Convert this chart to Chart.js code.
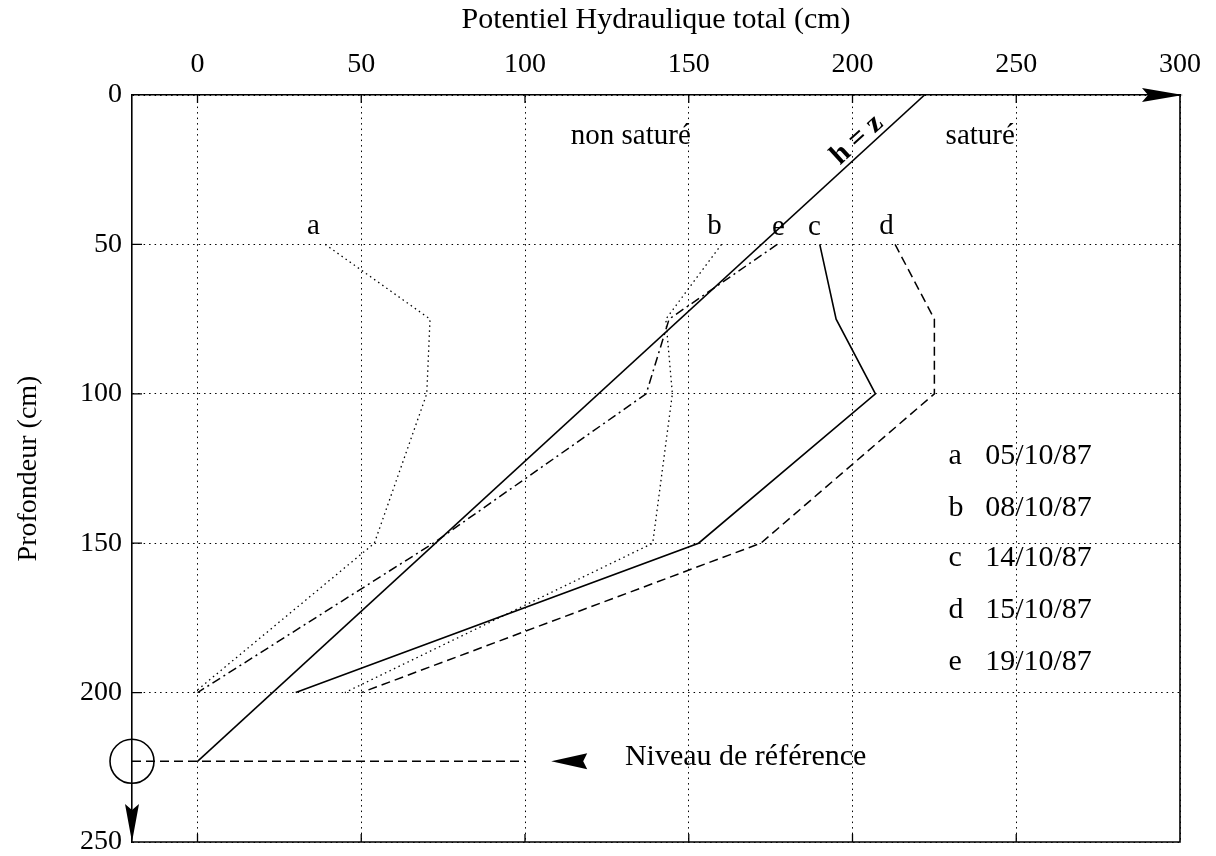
<!DOCTYPE html>
<html>
<head>
<meta charset="utf-8">
<script src="https://cdn.jsdelivr.net/npm/chart.js@4.4.1/dist/chart.umd.min.js"></script>
<style>
  html, body { margin: 0; padding: 0; background: #fff; }
  #wrap { width: 1216px; height: 856px; }
</style>
</head>
<body>
<div id="wrap"><canvas id="chart"></canvas></div>
<script>
// profondeurs des tensiometres (cm)
const depths = [50, 75, 100, 150, 200];
// potentiel hydraulique total (cm) pour chaque date
const serieA = [39, 71, 70, 54, -1];
const serieB = [160, 143, 145, 139, 45];
const serieC = [190, 195, 207, 153, 30];
const serieD = [213, 225, 225, 172, 50];
const serieE = [177, 144, 137, 72, 0];

const hzX = [222, 0];
const hzY = [0, 223];
const refDepth = 223;
const refX = [-20, 100];

const xTicks = [0, 50, 100, 150, 200, 250, 300];
const yTicks = [0, 50, 100, 150, 200, 250];

const letters = ["a", "b", "c", "d", "e"];
const dates = ["05/10/87", "08/10/87", "14/10/87", "15/10/87", "19/10/87"];

const FONT = "'Liberation Serif', 'Times New Roman', serif";

function pts(xs, ys) {
  return xs.map((x, i) => ({ x: x, y: ys[i] }));
}

function lineSet(label, xs, ys, dash, width) {
  return {
    label: label,
    data: pts(xs, ys),
    borderColor: "#000",
    borderWidth: width,
    borderDash: dash,
    pointRadius: 0,
    fill: false,
    tension: 0,
  };
}

const datasets = [
  lineSet("a", serieA, depths, [1.5, 3.5], 1.3),
  lineSet("b", serieB, depths, [1.5, 3.5], 1.3),
  lineSet("c", serieC, depths, [], 1.6),
  lineSet("d", serieD, depths, [9, 5], 1.5),
  lineSet("e", serieE, depths, [9, 4, 2, 4], 1.5),
  lineSet("h=z", hzX, hzY, [], 1.6),
  lineSet("ref", refX, [refDepth, refDepth], [9, 5], 1.5),
  {
    label: "origine",
    data: [{ x: refX[0], y: refDepth }],
    pointRadius: 22,
    pointStyle: "circle",
    borderColor: "#000",
    borderWidth: 1.6,
    backgroundColor: "rgba(0,0,0,0)",
    showLine: false,
    clip: false,
  },
];

// cadre, fleches, petites graduations et textes
const notes = {
  id: "notes",
  afterDraw(chart) {
    const ctx = chart.ctx;
    const xs = chart.scales.x;
    const ys = chart.scales.y;
    const area = chart.chartArea;
    const px = (v) => xs.getPixelForValue(v);
    const py = (v) => ys.getPixelForValue(v);

    ctx.save();
    ctx.strokeStyle = "#000";
    ctx.fillStyle = "#000";
    ctx.lineWidth = 1.6;
    ctx.setLineDash([]);
    ctx.beginPath();
    ctx.moveTo(area.right, area.top);
    ctx.lineTo(area.right, area.bottom);
    ctx.lineTo(area.left, area.bottom);
    ctx.stroke();

    // graduations vers l'interieur
    ctx.lineWidth = 1.3;
    ctx.beginPath();
    xTicks.slice(0, -1).forEach((v) => {
      ctx.moveTo(px(v), area.top);
      ctx.lineTo(px(v), area.top + 8);
      ctx.moveTo(px(v), area.bottom);
      ctx.lineTo(px(v), area.bottom - 8);
    });
    yTicks.slice(1, -1).forEach((v) => {
      ctx.moveTo(area.left, py(v));
      ctx.lineTo(area.left + 10, py(v));
    });
    ctx.stroke();

    // fleche axe horizontal
    ctx.beginPath();
    ctx.moveTo(area.right + 3, area.top);
    ctx.lineTo(area.right - 38, area.top - 7);
    ctx.lineTo(area.right - 32, area.top);
    ctx.lineTo(area.right - 38, area.top + 7);
    ctx.closePath();
    ctx.fill();

    // fleche axe vertical
    ctx.beginPath();
    ctx.moveTo(area.left, area.bottom);
    ctx.lineTo(area.left - 7, area.bottom - 38);
    ctx.lineTo(area.left, area.bottom - 32);
    ctx.lineTo(area.left + 7, area.bottom - 38);
    ctx.closePath();
    ctx.fill();

    // fleche niveau de reference
    const ay = py(refDepth);
    const ax = px(108);
    ctx.beginPath();
    ctx.moveTo(ax, ay);
    ctx.lineTo(ax + 36, ay - 8);
    ctx.lineTo(ax + 32, ay);
    ctx.lineTo(ax + 36, ay + 8);
    ctx.closePath();
    ctx.fill();

    ctx.font = "29px " + FONT;
    ctx.textBaseline = "middle";
    ctx.textAlign = "center";
    ctx.fillText("a", px(35.4), py(44));
    ctx.fillText("b", px(157.9), py(44));
    ctx.fillText("e", px(177.4), py(44.3));
    ctx.fillText("c", px(188.4), py(44.3));
    ctx.fillText("d", px(210.4), py(44));
    ctx.fillText("non saturé", px(132.3), py(14));
    ctx.fillText("saturé", px(239), py(14));

    ctx.save();
    ctx.translate(px(201.4), py(15));
    ctx.rotate(-42.5 * Math.PI / 180);
    ctx.font = "bold 29px " + FONT;
    ctx.fillText("h = z", 0, 0);
    ctx.restore();

    ctx.font = "30px " + FONT;
    ctx.textAlign = "left";
    const legY = [121, 138.2, 154.9, 172.4, 189.7];
    letters.forEach((l, i) => {
      ctx.fillText(l, px(229.3), py(legY[i]));
      ctx.fillText(dates[i], px(240.5), py(legY[i]));
    });
    ctx.fillText("Niveau de référence", px(130.5), py(221.6));
    ctx.restore();
  },
};

new Chart(document.getElementById("chart"), {
  type: "line",
  data: { datasets: datasets },
  options: {
    responsive: true,
    maintainAspectRatio: false,
    animation: false,
    layout: { autoPadding: false, padding: { left: 0, top: 0, right: 36, bottom: 14 } },
    plugins: { legend: { display: false }, tooltip: { enabled: false } },
    scales: {
      x: {
        type: "linear",
        position: "top",
        min: -20,
        max: 300,
        afterBuildTicks: (axis) => { axis.ticks = xTicks.map((v) => ({ value: v })); },
        afterFit: (s) => { s.height = 95; s.paddingLeft = 0; s.paddingRight = 0; },
        grid: { color: "#000", lineWidth: 1, drawTicks: false },
        border: { display: true, color: "#000", width: 1.6, dash: [1.5, 4] },
        ticks: { color: "#000", font: { family: FONT, size: 28 }, padding: 14, maxRotation: 0 },
        title: {
          display: true,
          text: "Potentiel Hydraulique total (cm)",
          color: "#000",
          font: { family: FONT, size: 30 },
          padding: { top: 2, bottom: 0 },
        },
      },
      y: {
        type: "linear",
        reverse: true,
        min: 0,
        max: 250,
        afterBuildTicks: (axis) => { axis.ticks = yTicks.map((v) => ({ value: v })); },
        afterFit: (s) => { s.width = 132; s.paddingTop = 0; s.paddingBottom = 0; },
        grid: { color: "#000", lineWidth: 1, drawTicks: false },
        border: { display: true, color: "#000", width: 1.6, dash: [1.5, 4] },
        ticks: { color: "#000", font: { family: FONT, size: 28 }, padding: 10 },
        title: {
          display: true,
          text: "Profondeur (cm)",
          color: "#000",
          font: { family: FONT, size: 28 },
          padding: { top: 12, bottom: 0 },
        },
      },
    },
  },
  plugins: [notes],
});
</script>
</body>
</html>
